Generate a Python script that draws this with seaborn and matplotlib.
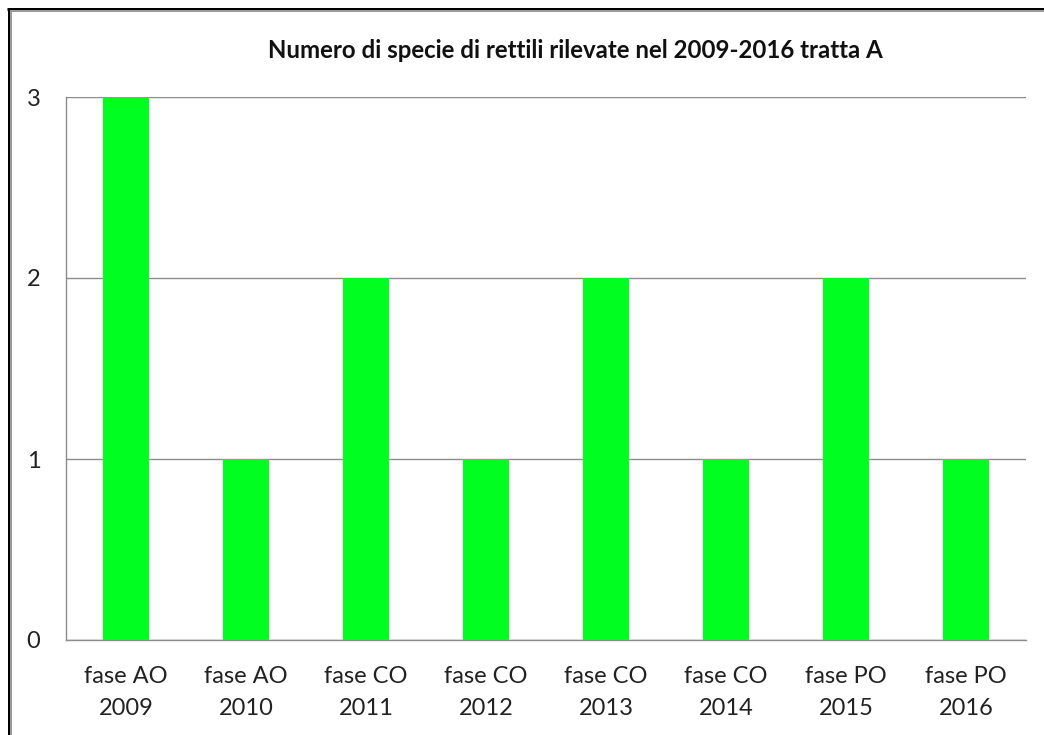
import matplotlib
matplotlib.use("Agg")
import matplotlib.pyplot as plt
import seaborn as sns
import pandas as pd
from matplotlib.lines import Line2D

# Data
phases = ["fase AO\n2009", "fase AO\n2010", "fase CO\n2011", "fase CO\n2012",
          "fase CO\n2013", "fase CO\n2014", "fase PO\n2015", "fase PO\n2016"]
species_counts = [3, 1, 2, 1, 2, 1, 2, 1]
yticks = [0, 1, 2, 3]
title = "Numero di specie di rettili rilevate nel 2009-2016 tratta A"

sns.set_style("white")
plt.rcParams["font.family"] = ["Lato", "DejaVu Sans"]

df = pd.DataFrame({"fase": phases, "specie": species_counts})

W, H = 1044, 735
fig = plt.figure(figsize=(W / 100, H / 100), dpi=100)
ax = fig.add_axes([66 / W, 1 - 640 / H, (1026 - 66) / W, (640 - 97) / H])

sns.barplot(data=df, x="fase", y="specie", color="#00FF21", saturation=1,
            width=0.39, linewidth=0, edgecolor="none", ax=ax, zorder=3)

ax.set_ylim(0, 3)
ax.set_xlim(-0.5, len(phases) - 0.5)
ax.set_yticks(yticks)
ax.set_yticklabels([str(t) for t in yticks], fontsize=17, color="#222222")
ax.yaxis.grid(True, color="#8c8c8c", linewidth=1.0, zorder=0)
ax.set_axisbelow(True)
ax.tick_params(axis="y", length=6.5, width=1, color="#8c8c8c", pad=12)

# Category labels centred, tick marks on category boundaries
ax.set_xticks(range(len(phases)))
ax.set_xticklabels(phases, fontsize=17, color="#222222", linespacing=1.6)
ax.tick_params(axis="x", which="major", length=0, pad=19)
ax.set_xticks([i - 0.5 for i in range(len(phases) + 1)], minor=True)
ax.tick_params(axis="x", which="minor", length=7, width=1, color="#8c8c8c")

ax.set_xlabel("")
ax.set_ylabel("")
for side in ["top", "right"]:
    ax.spines[side].set_visible(False)
for side in ["left", "bottom"]:
    ax.spines[side].set_color("#8c8c8c")
    ax.spines[side].set_linewidth(1.0)

fig.text(575 / W, 1 - 50 / H, title, ha="center", va="center",
         fontsize=17.3, fontweight="bold", color="#111111")

# Outer frame (black edge with thin gray inner line)
def px_line(x0, y0, x1, y1, color, lw):
    fig.add_artist(Line2D([x0 / W, x1 / W], [1 - y0 / H, 1 - y1 / H],
                          transform=fig.transFigure, color=color,
                          linewidth=lw * 0.72, solid_capstyle="butt"))

px_line(8.5, 8.5, 8.5, H, "black", 3)
px_line(7, 8.5, W, 8.5, "black", 3)
px_line(11, 11, 11, H, "#9a9a9a", 2)
px_line(10, 11, W, 11, "#9a9a9a", 2)

fig.savefig("out.png", dpi=100, facecolor="white")
